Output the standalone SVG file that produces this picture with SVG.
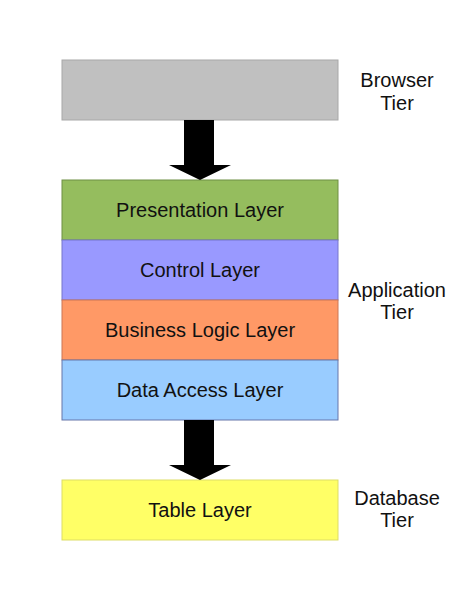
<svg xmlns="http://www.w3.org/2000/svg" width="474" height="613" viewBox="0 0 474 613">
<style>
.box{stroke-width:1}
.lbl{font-family:"Liberation Sans",Arial,sans-serif;font-size:20px;fill:#111;text-anchor:middle}
.arrow{fill:#000}
</style>
<rect width="474" height="613" fill="#fff"/>
<g id="browser"><rect class="box" x="62" y="60" width="276" height="60" fill="#c0c0c0" stroke="#a8a8a8"/></g>
<g id="presentation"><rect class="box" x="62" y="180" width="276" height="60" fill="#95bd5e" stroke="#6f8f45"/><text class="lbl" x="200" y="217">Presentation Layer</text></g>
<g id="control"><rect class="box" x="62" y="240" width="276" height="60" fill="#9999ff" stroke="#7777cc"/><text class="lbl" x="200" y="277">Control Layer</text></g>
<g id="business"><rect class="box" x="62" y="300" width="276" height="60" fill="#ff9966" stroke="#cc7755"/><text class="lbl" x="200" y="337">Business Logic Layer</text></g>
<g id="dataaccess"><rect class="box" x="62" y="360" width="276" height="60" fill="#99ccff" stroke="#6677aa"/><text class="lbl" x="200" y="397">Data Access Layer</text></g>
<g id="table"><rect class="box" x="62" y="480" width="276" height="60" fill="#ffff66" stroke="#dddd66"/><text class="lbl" x="200" y="517">Table Layer</text></g>
<g id="connectors">
<polygon class="arrow" points="184,120 214,120 214,165 231,165 200,180 169,165 184,165"/>
<polygon class="arrow" points="184,420 214,420 214,465 231,465 200,480 169,465 184,465"/>
</g>
<g id="tier-labels">
<text class="lbl" x="397" y="87">Browser</text><text class="lbl" x="397" y="110">Tier</text>
<text class="lbl" x="397" y="297">Application</text><text class="lbl" x="397" y="319">Tier</text>
<text class="lbl" x="397" y="505">Database</text><text class="lbl" x="397" y="527">Tier</text>
</g>
</svg>
